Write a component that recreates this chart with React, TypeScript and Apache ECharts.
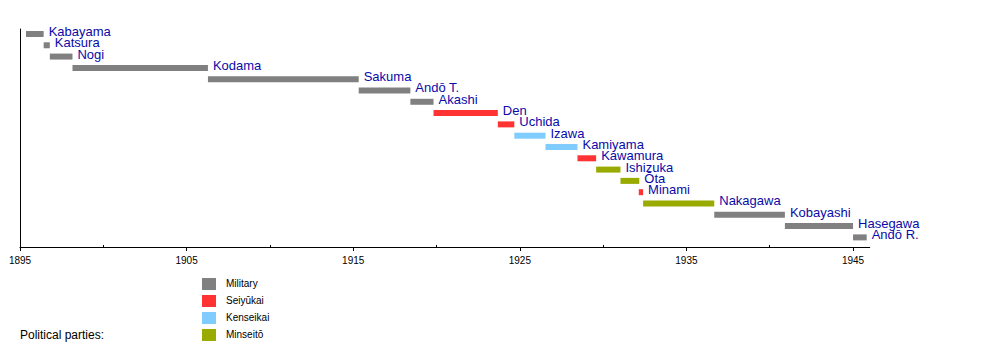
import React, { useEffect, useRef } from "react";
import * as echarts from "echarts";

// Governors-General (names, start year, end year, party)
const names = [
  "Kabayama", "Katsura", "Nogi", "Kodama", "Sakuma", "Andō T.", "Akashi",
  "Den", "Uchida", "Izawa", "Kamiyama", "Kawamura", "Ishizuka", "Ōta",
  "Minami", "Nakagawa", "Kobayashi", "Hasegawa", "Andō R.",
];
const starts = [
  1895.36, 1896.42, 1896.79, 1898.15, 1906.28, 1915.33, 1918.43,
  1919.82, 1923.68, 1924.67, 1926.54, 1928.46, 1929.58, 1931.04,
  1932.14, 1932.40, 1936.67, 1940.91, 1945.0,
];
const ends = [
  1896.42, 1896.79, 1898.15, 1906.28, 1915.33, 1918.43, 1919.82,
  1923.68, 1924.67, 1926.54, 1928.46, 1929.58, 1931.04, 1932.17,
  1932.40, 1936.67, 1940.91, 1945.0, 1945.82,
];
const parties = [
  "Military", "Military", "Military", "Military", "Military", "Military", "Military",
  "Seiyūkai", "Seiyūkai", "Kenseikai", "Kenseikai", "Seiyūkai", "Minseitō", "Minseitō",
  "Seiyūkai", "Minseitō", "Military", "Military", "Military",
];

const partyNames = ["Military", "Seiyūkai", "Kenseikai", "Minseitō"];
const partyColors = ["#808080", "#ff3333", "#80ccff", "#99aa00"];

const majorTicks = [1895, 1905, 1915, 1925, 1935, 1945];
const minorTicks = [1900, 1910, 1920, 1930, 1940];

const FONT = '"Liberation Sans", Arial, sans-serif';

export default function App() {
  const ref = useRef<HTMLDivElement>(null);

  useEffect(() => {
    if (!ref.current) return;
    const chart = echarts.init(ref.current, undefined, { renderer: "svg" });

    const data = names.map((n, i) => [i, starts[i], ends[i], partyNames.indexOf(parties[i])]);

    const legendGraphics: any[] = [];
    partyNames.forEach((p, i) => {
      legendGraphics.push({
        type: "rect",
        left: 202,
        top: 278 + i * 17,
        shape: { width: 14, height: 12 },
        style: { fill: partyColors[i] },
      });
      legendGraphics.push({
        type: "text",
        left: 226,
        top: 278 + i * 17,
        style: { text: p, font: `10px ${FONT}`, fill: "#000" },
      });
    });
    legendGraphics.push({
      type: "text",
      left: 20,
      top: 329,
      style: { text: "Political parties:", font: `12px ${FONT}`, fill: "#000" },
    });

    chart.setOption({
      animation: false,
      backgroundColor: "#fff",
      grid: { left: 20, right: 130.3, top: 29, bottom: 104, containLabel: false },
      xAxis: [
        {
          type: "value",
          min: 1895,
          max: 1946,
          position: "bottom",
          axisLine: { show: true, onZero: false, lineStyle: { color: "#000", width: 1 } },
          axisTick: { show: true, length: 4, customValues: majorTicks, lineStyle: { color: "#000" } },
          axisLabel: {
            show: true,
            customValues: majorTicks,
            formatter: (v: number) => String(v),
            color: "#000",
            fontSize: 10,
            fontFamily: FONT,
            margin: 8,
          },
          splitLine: { show: false },
        },
        {
          type: "value",
          min: 1895,
          max: 1946,
          position: "bottom",
          offset: 0,
          axisLine: { show: false, onZero: false },
          axisTick: { show: true, inside: true, length: 2, customValues: minorTicks, lineStyle: { color: "#000" } },
          axisLabel: { show: false },
          splitLine: { show: false },
        },
      ],
      yAxis: {
        type: "value",
        inverse: true,
        min: -0.44,
        max: 18.85,
        axisLine: { show: true, onZero: false, lineStyle: { color: "#000", width: 1 } },
        axisTick: { show: false },
        axisLabel: { show: false },
        splitLine: { show: false },
      },
      graphic: legendGraphics,
      series: [
        {
          type: "custom",
          xAxisIndex: 0,
          yAxisIndex: 0,
          encode: { x: [1, 2], y: 0 },
          data,
          renderItem: (params: any, api: any) => {
            const idx = api.value(0);
            const p0 = api.coord([api.value(1), idx]);
            const p1 = api.coord([api.value(2), idx]);
            const pi = api.value(3);
            const name = names[idx];
            return {
              type: "group",
              children: [
                {
                  type: "rect",
                  shape: { x: p0[0], y: p0[1] - 3, width: Math.max(p1[0] - p0[0], 3), height: 6 },
                  style: { fill: partyColors[pi] },
                },
                {
                  type: "text",
                  style: {
                    text: name,
                    x: p1[0] + 5,
                    y: p0[1] - 2.5,
                    verticalAlign: "middle",
                    align: "left",
                    font: `13px ${FONT}`,
                    fill: "#0a0aa8",
                  },
                },
              ],
            };
          },
        },
      ],
    });

    return () => chart.dispose();
  }, []);

  return (
    <div
      ref={ref}
      style={{ position: "fixed", left: 0, top: 0, width: 1000, height: 351 }}
    />
  );
}
